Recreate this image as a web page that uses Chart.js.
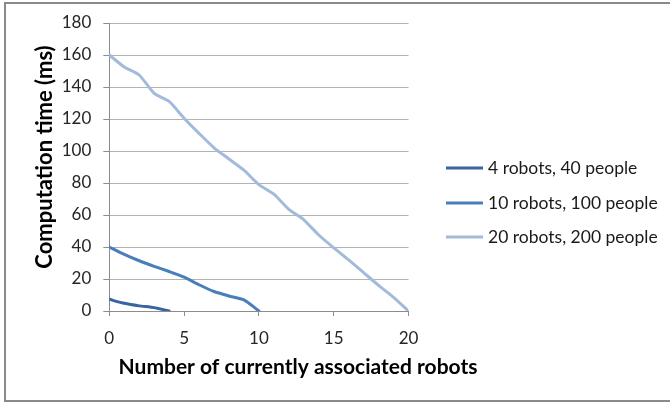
<!DOCTYPE html>
<html>
<head>
<meta charset="utf-8">
<script src="https://cdn.jsdelivr.net/npm/chart.js@4"></script>
<style>
  html, body { margin: 0; padding: 0; background: #ffffff; }
  #wrap { width: 670px; height: 407px; position: relative; }
</style>
</head>
<body>
<div id="wrap"><canvas id="chart" width="670" height="407"></canvas></div>
<script>
// Number of currently associated robots (x) for each measurement
const robotCounts = [0, 1, 2, 3, 4, 5, 6, 7, 8, 9, 10, 11, 12, 13, 14, 15, 16, 17, 18, 19, 20];

// Computation time (ms) per scenario
const time4Robots  = [7.3, 4.8, 3.2, 2.1, 0];
const time10Robots = [40, 35.4, 31.4, 27.9, 24.7, 21.2, 16.4, 12.2, 9.4, 6.9, 0];
const time20Robots = [160, 152.5, 147.5, 136, 131, 120.5, 111, 102, 95, 88, 79, 73, 63.5, 57, 47.5, 39.5, 32, 24, 16, 8.5, 0];

const seriesLabels = ['4 robots, 40 people', '10 robots, 100 people', '20 robots, 200 people'];
const seriesColors = ['#3a63a1', '#4a7ebb', '#a3bbdb'];

const xTitle = 'Number of currently associated robots';
const yTitle = 'Computation time (ms)';

const FONT = 'Lato, "Open Sans", sans-serif';

function toPoints(values) {
  return values.map((v, i) => ({ x: robotCounts[i], y: v }));
}

// Frame, axis titles and legend drawn around the plot
const decor = {
  id: 'decor',
  beforeDraw(chart) {
    const ctx = chart.ctx;
    ctx.save();
    ctx.strokeStyle = '#8a8a8a';
    ctx.lineWidth = 2;
    ctx.strokeRect(5, 3, 700, 398);
    ctx.restore();
  },
  afterDraw(chart) {
    const ctx = chart.ctx;
    ctx.save();
    ctx.fillStyle = '#000000';
    ctx.font = 'bold 21px ' + FONT;
    ctx.textAlign = 'center';
    ctx.textBaseline = 'middle';
    ctx.fillText(xTitle, 298, 367);
    ctx.translate(45, 157);
    ctx.rotate(-Math.PI / 2);
    ctx.font = 'bold 22px ' + FONT;
    ctx.fillText(yTitle, 0, 0);
    ctx.restore();

    ctx.save();
    ctx.font = '17.5px ' + FONT;
    ctx.textAlign = 'left';
    ctx.textBaseline = 'middle';
    const rows = [168, 203, 237];
    chart.data.datasets.forEach((ds, i) => {
      const y = rows[i];
      ctx.strokeStyle = ds.borderColor;
      ctx.lineWidth = 3;
      ctx.beginPath();
      ctx.moveTo(446, y);
      ctx.lineTo(483, y);
      ctx.stroke();
      ctx.fillStyle = '#1a1a1a';
      ctx.fillText(ds.label, 488, y);
    });
    ctx.restore();
  }
};

new Chart(document.getElementById('chart'), {
  type: 'line',
  data: {
    datasets: [
      { label: seriesLabels[0], data: toPoints(time4Robots),  borderColor: seriesColors[0], backgroundColor: seriesColors[0] },
      { label: seriesLabels[1], data: toPoints(time10Robots), borderColor: seriesColors[1], backgroundColor: seriesColors[1] },
      { label: seriesLabels[2], data: toPoints(time20Robots), borderColor: seriesColors[2], backgroundColor: seriesColors[2] }
    ]
  },
  options: {
    responsive: false,
    animation: false,
    devicePixelRatio: 1,
    layout: { padding: { top: 23, right: 261.5, bottom: 0, left: 0 } },
    elements: {
      line: { borderWidth: 3, tension: 0.2, fill: false, borderCapStyle: 'round', borderJoinStyle: 'round' },
      point: { radius: 0, hoverRadius: 0 }
    },
    plugins: {
      legend: { display: false },
      tooltip: { enabled: false }
    },
    scales: {
      x: {
        type: 'linear',
        min: 0,
        max: 20,
        afterFit(scale) { scale.height = 96; },
        ticks: { stepSize: 5, color: '#262626', font: { family: FONT, size: 17 }, padding: 12, maxRotation: 0 },
        grid: { drawOnChartArea: false, drawTicks: true, tickLength: 5, color: '#8c8c8c' },
        border: { color: '#8c8c8c', width: 1 }
      },
      y: {
        min: 0,
        max: 180,
        afterFit(scale) { scale.width = 109.3; },
        ticks: { stepSize: 20, color: '#262626', font: { family: FONT, size: 17 }, padding: 12 },
        grid: { color: '#b3b3b3', lineWidth: 1, drawTicks: true, tickLength: 6, tickColor: '#8c8c8c' },
        border: { color: '#8c8c8c', width: 1 }
      }
    }
  },
  plugins: [decor]
});
</script>
</body>
</html>
